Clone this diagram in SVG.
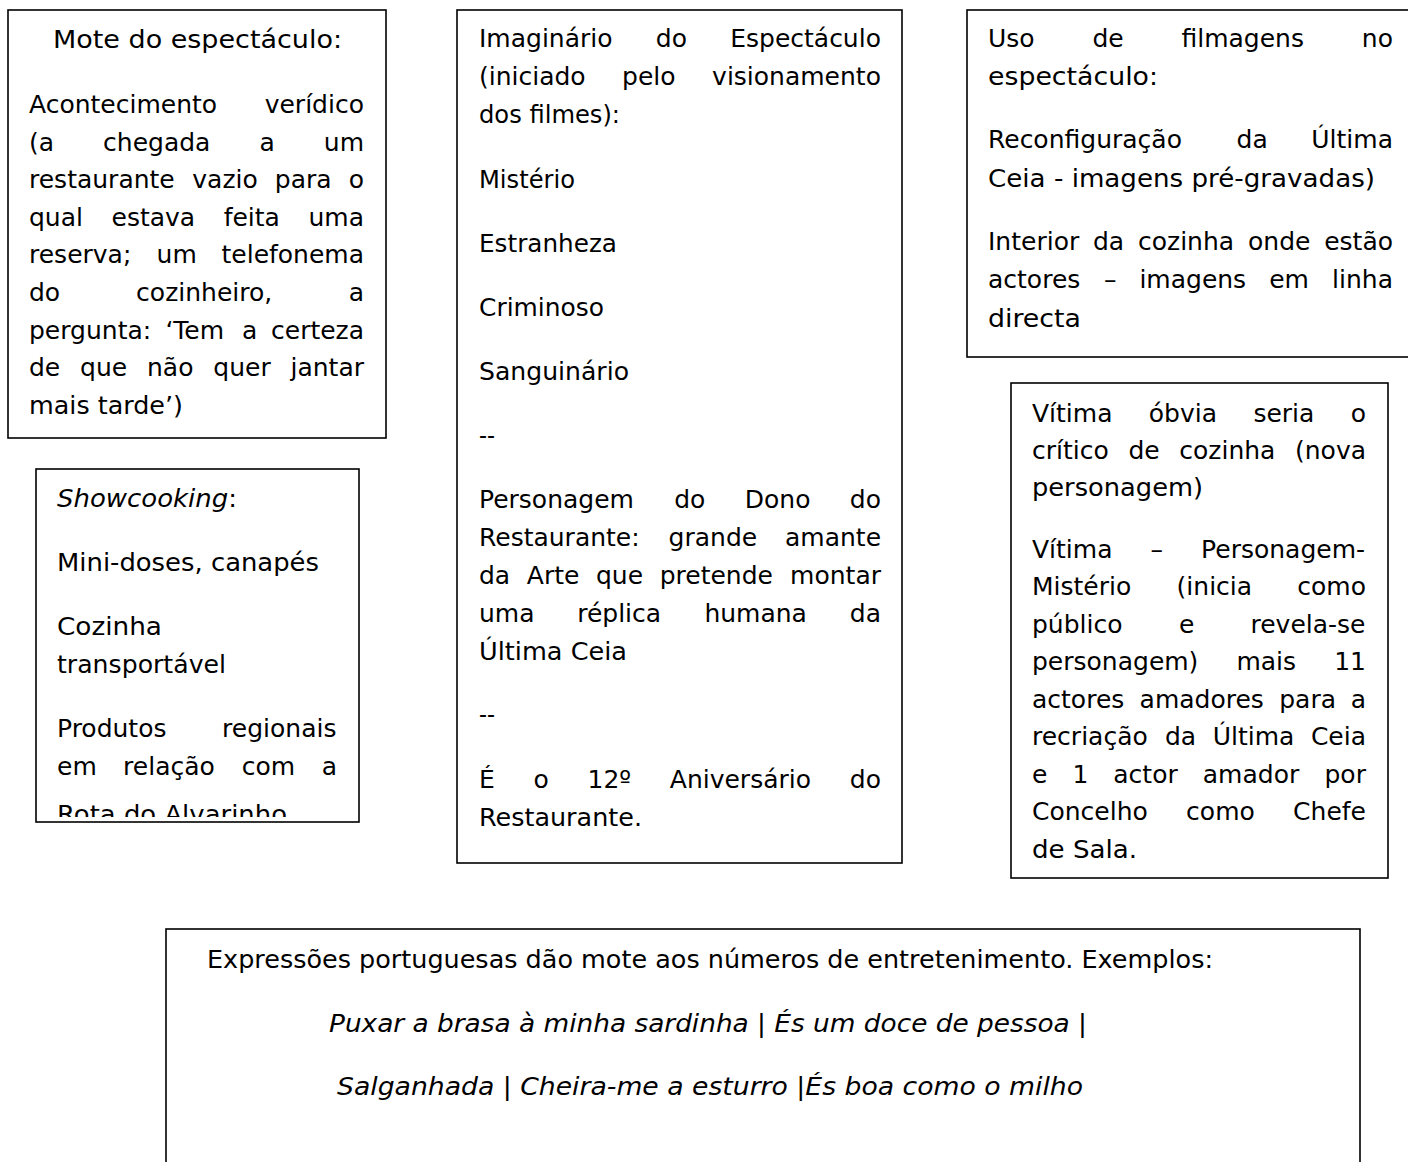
<svg xmlns="http://www.w3.org/2000/svg" width="1408" height="1162" viewBox="0 0 1408 1162">
<style>
.box{fill:#fff;stroke:#000;stroke-width:1.6}
.t{font-family:"DejaVu Sans","Liberation Sans",sans-serif;font-size:25px;fill:#000}
.i{font-style:italic}
</style>
<defs>
<clipPath id="clipShow"><rect x="36" y="469" width="323" height="348"/></clipPath>
</defs>
<rect width="1408" height="1162" fill="#fff"/>

<g id="mote">
<rect class="box" x="8" y="10" width="378" height="428"/>
<text class="t" x="53" y="48" textLength="289" lengthAdjust="spacingAndGlyphs">Mote do espectáculo:</text>
<text class="t" y="113"><tspan x="29">Acontecimento</tspan> <tspan x="264.7">verídico</tspan></text>
<text class="t" y="151"><tspan x="29">(a</tspan> <tspan x="103.1">chegada</tspan> <tspan x="259.5">a</tspan> <tspan x="323.8">um</tspan></text>
<text class="t" y="188"><tspan x="29">restaurante</tspan> <tspan x="192.3">vazio</tspan> <tspan x="274.8">para</tspan> <tspan x="348.7">o</tspan></text>
<text class="t" y="226"><tspan x="29">qual</tspan> <tspan x="111.5">estava</tspan> <tspan x="223.7">feita</tspan> <tspan x="308.5">uma</tspan></text>
<text class="t" y="263"><tspan x="29">reserva;</tspan> <tspan x="156.6">um</tspan> <tspan x="221.5">telefonema</tspan></text>
<text class="t" y="301"><tspan x="29">do</tspan> <tspan x="136.1">cozinheiro,</tspan> <tspan x="348.7">a</tspan></text>
<text class="t" y="339"><tspan x="29">pergunta:</tspan> <tspan x="165.4">‘Tem</tspan> <tspan x="242.1">a</tspan> <tspan x="271">certeza</tspan></text>
<text class="t" y="376"><tspan x="29">de</tspan> <tspan x="80.1">que</tspan> <tspan x="147">não</tspan> <tspan x="213.3">quer</tspan> <tspan x="290.5">jantar</tspan></text>
<text class="t" x="29" y="414" textLength="154" lengthAdjust="spacingAndGlyphs">mais tarde’)</text>
</g>

<g id="showcooking">
<rect class="box" x="36" y="469" width="323" height="353"/>
<g clip-path="url(#clipShow)">
<text class="t" x="57" y="507" textLength="180" lengthAdjust="spacingAndGlyphs"><tspan class="i">Showcooking</tspan>:</text>
<text class="t" x="57" y="571" textLength="262" lengthAdjust="spacingAndGlyphs">Mini-doses, canapés</text>
<text class="t" x="57" y="635" textLength="105" lengthAdjust="spacingAndGlyphs">Cozinha</text>
<text class="t" x="57" y="673" textLength="169" lengthAdjust="spacingAndGlyphs">transportável</text>
<text class="t" y="737"><tspan x="57">Produtos</tspan> <tspan x="222.1">regionais</tspan></text>
<text class="t" y="775"><tspan x="57">em</tspan> <tspan x="123.1">relação</tspan> <tspan x="241.8">com</tspan> <tspan x="321.7">a</tspan></text>
<text class="t" x="57" y="823" textLength="230" lengthAdjust="spacingAndGlyphs">Rota do Alvarinho</text>
</g>
</g>

<g id="imaginario">
<rect class="box" x="457" y="10" width="445" height="853"/>
<text class="t" y="47"><tspan x="479">Imaginário</tspan> <tspan x="655.8">do</tspan> <tspan x="730.2">Espectáculo</tspan></text>
<text class="t" y="85"><tspan x="479">(iniciado</tspan> <tspan x="622.1">pelo</tspan> <tspan x="712.1">visionamento</tspan></text>
<text class="t" x="479" y="123" textLength="141" lengthAdjust="spacingAndGlyphs">dos filmes):</text>
<text class="t" x="479" y="188" textLength="96" lengthAdjust="spacingAndGlyphs">Mistério</text>
<text class="t" x="479" y="252" textLength="138" lengthAdjust="spacingAndGlyphs">Estranheza</text>
<text class="t" x="479" y="316" textLength="125" lengthAdjust="spacingAndGlyphs">Criminoso</text>
<text class="t" x="479" y="380" textLength="150" lengthAdjust="spacingAndGlyphs">Sanguinário</text>
<text class="t" x="479" y="444" textLength="16" lengthAdjust="spacingAndGlyphs">--</text>
<text class="t" y="508"><tspan x="479">Personagem</tspan> <tspan x="674.2">do</tspan> <tspan x="744.8">Dono</tspan> <tspan x="849.8">do</tspan></text>
<text class="t" y="546"><tspan x="479">Restaurante:</tspan> <tspan x="668.6">grande</tspan> <tspan x="785">amante</tspan></text>
<text class="t" y="584"><tspan x="479">da</tspan> <tspan x="526.8">Arte</tspan> <tspan x="596">que</tspan> <tspan x="659.7">pretende</tspan> <tspan x="790.1">montar</tspan></text>
<text class="t" y="622"><tspan x="479">uma</tspan> <tspan x="577.2">réplica</tspan> <tspan x="704.4">humana</tspan> <tspan x="849.8">da</tspan></text>
<text class="t" x="479" y="660" textLength="148" lengthAdjust="spacingAndGlyphs">Última Ceia</text>
<text class="t" x="479" y="723" textLength="16" lengthAdjust="spacingAndGlyphs">--</text>
<text class="t" y="788"><tspan x="479">É</tspan> <tspan x="533.5">o</tspan> <tspan x="587.5">12º</tspan> <tspan x="669.8">Aniversário</tspan> <tspan x="849.8">do</tspan></text>
<text class="t" x="479" y="826" textLength="163" lengthAdjust="spacingAndGlyphs">Restaurante.</text>
</g>

<g id="filmagens">
<rect class="box" x="967" y="10" width="460" height="347"/>
<text class="t" y="47"><tspan x="988">Uso</tspan> <tspan x="1092.4">de</tspan> <tspan x="1181.5">filmagens</tspan> <tspan x="1361.8">no</tspan></text>
<text class="t" x="988" y="85" textLength="170" lengthAdjust="spacingAndGlyphs">espectáculo:</text>
<text class="t" y="148"><tspan x="988">Reconfiguração</tspan> <tspan x="1236.6">da</tspan> <tspan x="1311.3">Última</tspan></text>
<text class="t" x="988" y="187" textLength="387" lengthAdjust="spacingAndGlyphs">Ceia - imagens pré-gravadas)</text>
<text class="t" y="250"><tspan x="988">Interior</tspan> <tspan x="1093">da</tspan> <tspan x="1138">cozinha</tspan> <tspan x="1248">onde</tspan> <tspan x="1324.2">estão</tspan></text>
<text class="t" y="288"><tspan x="988">actores</tspan> <tspan x="1103.9">–</tspan> <tspan x="1139.4">imagens</tspan> <tspan x="1269.2">em</tspan> <tspan x="1332.1">linha</tspan></text>
<text class="t" x="988" y="327" textLength="93" lengthAdjust="spacingAndGlyphs">directa</text>
</g>

<g id="vitima">
<rect class="box" x="1011" y="383" width="377" height="495"/>
<text class="t" y="422"><tspan x="1032">Vítima</tspan> <tspan x="1148.8">óbvia</tspan> <tspan x="1253.4">seria</tspan> <tspan x="1350.7">o</tspan></text>
<text class="t" y="459"><tspan x="1032">crítico</tspan> <tspan x="1128.4">de</tspan> <tspan x="1179.3">cozinha</tspan> <tspan x="1295">(nova</tspan></text>
<text class="t" x="1032" y="496" textLength="171" lengthAdjust="spacingAndGlyphs">personagem)</text>
<text class="t" y="558"><tspan x="1032">Vítima</tspan> <tspan x="1150.5">–</tspan> <tspan x="1201.1">Personagem-</tspan></text>
<text class="t" y="595"><tspan x="1032">Mistério</tspan> <tspan x="1176.6">(inicia</tspan> <tspan x="1297.3">como</tspan></text>
<text class="t" y="633"><tspan x="1032">público</tspan> <tspan x="1178.9">e</tspan> <tspan x="1250.5">revela-se</tspan></text>
<text class="t" y="670"><tspan x="1032">personagem)</tspan> <tspan x="1236.4">mais</tspan> <tspan x="1334.2">11</tspan></text>
<text class="t" y="708"><tspan x="1032">actores</tspan> <tspan x="1139.6">amadores</tspan> <tspan x="1279.2">para</tspan> <tspan x="1350.7">a</tspan></text>
<text class="t" y="745"><tspan x="1032">recriação</tspan> <tspan x="1164.9">da</tspan> <tspan x="1212.7">Última</tspan> <tspan x="1310.9">Ceia</tspan></text>
<text class="t" y="783"><tspan x="1032">e</tspan> <tspan x="1072.4">1</tspan> <tspan x="1113.3">actor</tspan> <tspan x="1202.8">amador</tspan> <tspan x="1324.5">por</tspan></text>
<text class="t" y="820"><tspan x="1032">Concelho</tspan> <tspan x="1186.1">como</tspan> <tspan x="1293.1">Chefe</tspan></text>
<text class="t" x="1032" y="858" textLength="105" lengthAdjust="spacingAndGlyphs">de Sala.</text>
</g>

<g id="expressoes">
<rect class="box" x="166" y="929" width="1194" height="260"/>
<text class="t" x="207" y="968" textLength="1006" lengthAdjust="spacingAndGlyphs">Expressões portuguesas dão mote aos números de entretenimento. Exemplos:</text>
<text class="t" x="329" y="1032" textLength="758" lengthAdjust="spacingAndGlyphs"><tspan class="i">Puxar a brasa à minha sardinha</tspan> | <tspan class="i">És um doce de pessoa</tspan> |</text>
<text class="t" x="337" y="1095" textLength="746" lengthAdjust="spacingAndGlyphs"><tspan class="i">Salganhada</tspan> | <tspan class="i">Cheira-me a esturro</tspan> |<tspan class="i">És boa como o milho</tspan></text>
</g>
</svg>
